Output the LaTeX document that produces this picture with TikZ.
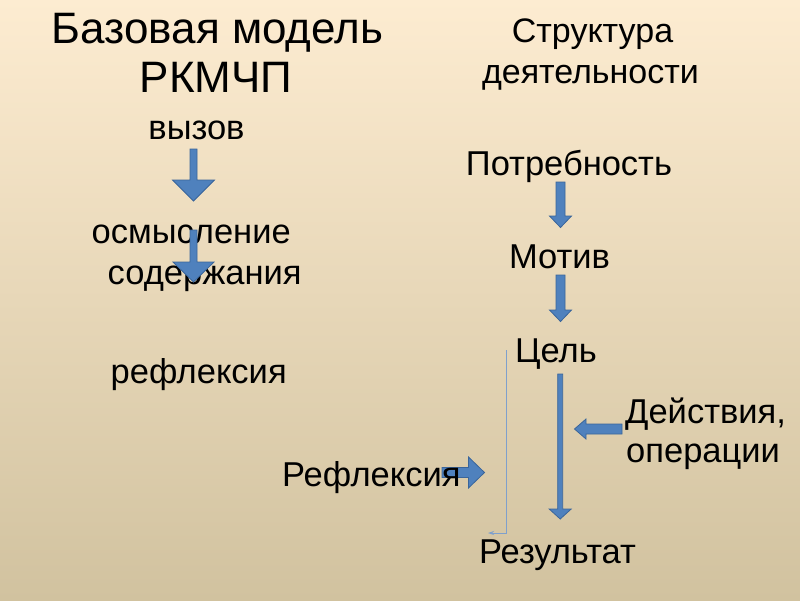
\documentclass[tikz,border=0pt]{standalone}
\usepackage{fontspec}
\setmainfont{Liberation Sans}
\usetikzlibrary{arrows.meta}
\definecolor{arrfill}{HTML}{4F81BD}
\definecolor{arrline}{HTML}{3A659A}
\definecolor{thinline}{HTML}{7FA0CC}
\definecolor{bgtop}{HTML}{FDECD1}
\definecolor{bgbot}{HTML}{D1C29F}
\tikzset{
  body/.style={inner sep=0pt, font=\fontsize{34.5}{41}\selectfont, text=black},
  titletext/.style={inner sep=0pt, font=\fontsize{44}{48}\selectfont, text=black},
  subtitle/.style={inner sep=0pt, font=\fontsize{34}{41}\selectfont, text=black},
  blockarrow/.style={fill=arrfill, draw=arrline, line width=0.8pt, line join=miter},
  thinconn/.style={draw=thinline, line width=0.9pt, -{Stealth[length=6pt,width=4pt]}}
}
\newcommand\dnarrow[6]{\draw[blockarrow] (#1-#5,#2) -- (#1+#5,#2) -- (#1+#5,#3) -- (#1+#6,#3) -- (#1,#4) -- (#1-#6,#3) -- (#1-#5,#3) -- cycle;}
\begin{document}
\begin{tikzpicture}[x=1pt,y=-1pt]
\useasboundingbox (0,0) rectangle (800,600);
\shade[top color=bgtop, bottom color=bgbot] (0,0) rectangle (800,600);
% titles
\node[titletext, anchor=base] (t1) at (217.5,43.5) {Базовая модель};
\node[titletext, anchor=base] (t2) at (216,92) {РКМЧП};
\node[subtitle, anchor=base] (s1) at (592.5,42) {Структура};
\node[subtitle, anchor=base] (s2) at (590.5,83) {деятельности};
% left column
\node[body, anchor=base] (l1) at (196.5,139) {вызов};
\node[body, anchor=base west] (l2) at (91.5,243) {осмысление};
\node[body, anchor=base west] (l3) at (107.5,284) {содержания};
\node[body, anchor=base west] (l4) at (110.5,383) {рефлексия};
\dnarrow{193.5}{149}{180}{201}{3.5}{21}
\dnarrow{193.5}{230}{262}{282}{3.5}{20.5}
% right column
\node[body, anchor=base] (r1) at (569,175) {Потребность};
\node[body, anchor=base] (r2) at (559.5,268) {Мотив};
\node[body, anchor=base] (r3) at (556,362) {Цель};
\node[body, anchor=base west] (r4) at (625,423) {Действия,};
\node[body, anchor=base west] (r5) at (626,462) {операции};
\node[body, anchor=base] (r7) at (557.5,563) {Результат};
\dnarrow{560.5}{182}{216}{227.5}{4.5}{11}
\dnarrow{560.5}{275}{310}{321.5}{4.5}{11}
\dnarrow{560.2}{374}{509}{519}{2.5}{11}
% left-pointing arrow from "Действия"
\draw[blockarrow] (622,424) -- (586,424) -- (586,419) -- (574.5,429) -- (586,439) -- (586,434) -- (622,434) -- cycle;
% right-pointing arrow at "Рефлексия"
\draw[blockarrow] (442,467.5) -- (468.5,467.5) -- (468.5,457) -- (484.5,472.5) -- (468.5,488) -- (468.5,477.5) -- (442,477.5) -- cycle;
\node[body, anchor=base west] (r6) at (282,486) {Рефлексия};
% thin feedback line
\coordinate (ft) at (506.7,350);
\coordinate (fb) at (488,533);
\draw[thinconn] (ft) |- (fb);
\end{tikzpicture}
\end{document}
